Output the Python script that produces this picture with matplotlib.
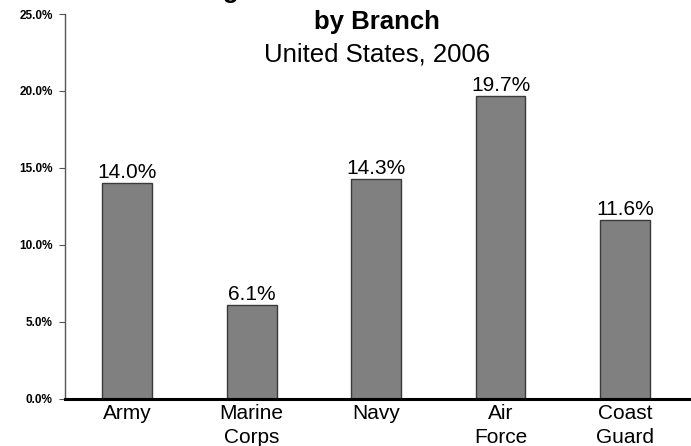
import matplotlib
matplotlib.use("Agg")
import matplotlib.pyplot as plt

# Data
branches = ["Army", "Marine\nCorps", "Navy", "Air\nForce", "Coast\nGuard"]
women_pct = [14.0, 6.1, 14.3, 19.7, 11.6]
y_ticks = [0, 5, 10, 15, 20, 25]

plt.rcParams["font.family"] = ["Liberation Sans", "DejaVu Sans"]

fig = plt.figure(figsize=(6.91, 4.46), dpi=100)
ax = fig.add_axes([0.0941, 0.1065, 0.9059, 0.8621])

x = range(len(branches))
bars = ax.bar(x, women_pct, width=0.4, color="#808080", edgecolor="#3a3a3a", linewidth=1)

for b, v in zip(bars, women_pct):
    ax.text(b.get_x() + b.get_width() / 2, v + 0.05, f"{v:.1f}%",
            ha="center", va="bottom", fontsize=15)

ax.set_xlim(-0.5, 4.53)
ax.set_ylim(0, 25)
ax.set_yticks(y_ticks)
ax.set_yticklabels([f"{t:.1f}%" for t in y_ticks], fontsize=8.5, fontweight="bold")
ax.set_xticks(list(x))
ax.set_xticklabels(branches, fontsize=15, linespacing=1.3)
ax.tick_params(axis="x", length=0, pad=4)
ax.tick_params(axis="y", length=4, color="#555555", pad=5)

for s in ["top", "right"]:
    ax.spines[s].set_visible(False)
ax.spines["left"].set_color("#555555")
ax.spines["left"].set_linewidth(1)
ax.spines["bottom"].set_linewidth(2.2)
ax.spines["bottom"].set_color("black")

# Title (first line runs off the top of the image, only a descender shows)
cx = 377 / 691
fig.text(cx, 1.004, "Percentage of Women in the Armed Forces", ha="center", va="baseline",
         fontsize=18.5, fontweight="bold")
fig.text(cx, 0.935, "by Branch", ha="center", va="baseline", fontsize=18.5, fontweight="bold")
fig.text(cx, 0.861, "United States, 2006", ha="center", va="baseline", fontsize=18.5)

fig.savefig("out.png", dpi=100)
